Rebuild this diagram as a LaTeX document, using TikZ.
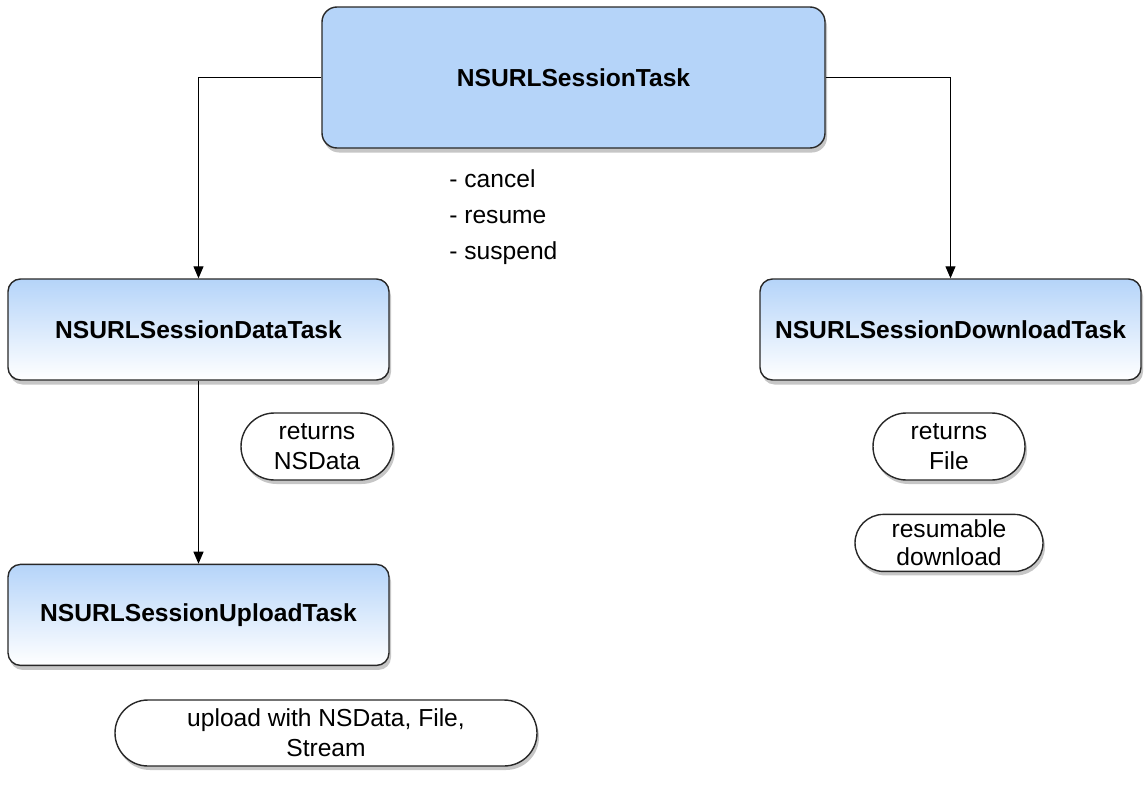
\documentclass[tikz,border=0pt]{standalone}
\usepackage{fontspec}
\setmainfont{Liberation Sans}
\usetikzlibrary{shapes.misc, arrows.meta, positioning, shadows}
\definecolor{taskblue}{RGB}{181,212,249}
\definecolor{rim}{RGB}{40,40,40}
\tikzset{root/.style={draw=rim, line width=0.8pt, fill=taskblue, rounded corners=3mm, minimum width=10.06cm, minimum height=2.82cm, font=\fontsize{14}{17}\selectfont\bfseries, drop shadow={shadow xshift=0.4mm, shadow yshift=-0.9mm, opacity=0.45}}}
\tikzset{task/.style={draw=rim, line width=0.8pt, top color=taskblue, bottom color=white, rounded corners=2.5mm, minimum width=7.62cm, minimum height=2.02cm, font=\fontsize{14}{17}\selectfont\bfseries, drop shadow={shadow xshift=0.4mm, shadow yshift=-0.9mm, opacity=0.45}}}
\tikzset{note/.style={draw=rim, line width=0.8pt, fill=white, rounded rectangle, align=center, inner sep=1mm, drop shadow={shadow xshift=0.4mm, shadow yshift=-0.8mm, opacity=0.45}}}
\tikzset{methods/.style={align=left, anchor=north west, inner sep=0pt}}
\tikzset{link/.style={line width=0.6pt, -{Triangle[length=2.4mm, width=2mm]}}}

\begin{document}
\begin{tikzpicture}[font=\fontsize{14}{17}\selectfont]
\useasboundingbox (0,0) rectangle (22.92,-15.76);
\node[root] (sessiontask) at (11.47,-1.55) {NSURLSessionTask};
\node[task] (datatask) at (3.97,-6.59) {NSURLSessionDataTask};
\node[task] (downloadtask) at (19.01,-6.59) {NSURLSessionDownloadTask};
\node[task, below=3.66cm of datatask] (uploadtask) {NSURLSessionUploadTask};

\node[methods, font=\fontsize{14}{20.5}\selectfont] (taskmethods) at (8.98,-3.38) {- cancel\\- resume\\- suspend};

\node[note, minimum width=3.24cm, minimum height=1.34cm] (returnsdata) at (6.34,-8.93) {returns\\NSData};
\node[note, minimum width=3.24cm, minimum height=1.34cm] (returnsfile) at (18.98,-8.93) {returns\\File};
\node[note, minimum width=3.96cm, minimum height=1.14cm, inner ysep=0.4mm, font=\fontsize{14}{16}\selectfont, below=0.66cm of returnsfile] (resumable) {resumable\\download};
\node[note, minimum width=8.64cm, minimum height=1.32cm] (uploadwith) at (6.52,-14.66) {upload with NSData, File,\\Stream};

\draw[link] (sessiontask.west) -| (datatask.north);
\draw[link] (sessiontask.east) -| (downloadtask.north);
\draw[link] (datatask) -- (uploadtask);
\end{tikzpicture}
\end{document}
